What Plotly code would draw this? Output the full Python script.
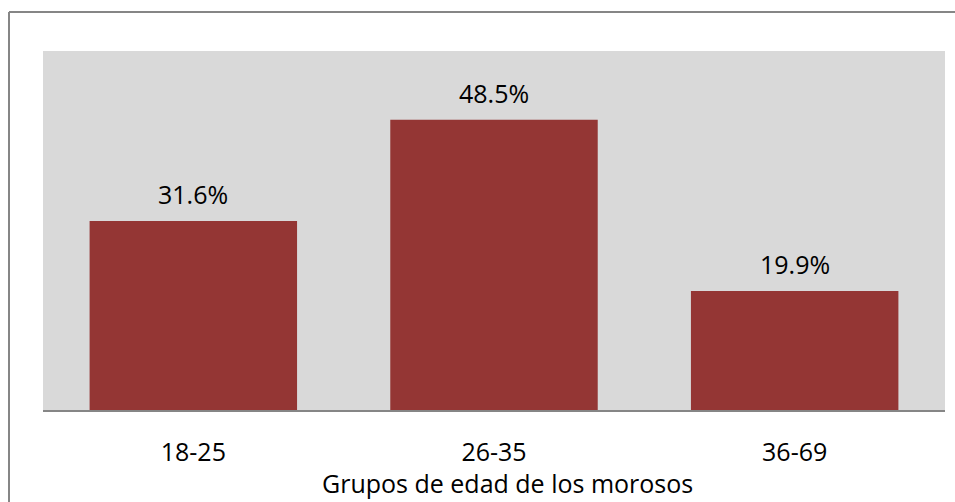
import plotly.graph_objects as go

categories = ["18-25", "26-35", "36-69"]
values = [31.6, 48.5, 19.9]
labels = ["31.6%", "48.5%", "19.9%"]
x_title = "Grupos de edad de los morosos"

W, H = 955, 502
L, R, T, B = 43, 10, 51, 92
pw = W - L - R
ph = H - T - B
FONT = "Open Sans"

fig = go.Figure()
fig.add_trace(go.Bar(x=categories, y=values, marker=dict(color="#943634", line=dict(width=0)),
                     width=0.69, hoverinfo="skip"))

for c, v, t in zip(categories, values, labels):
    fig.add_annotation(x=c, y=v, text=t, showarrow=False, yanchor="bottom", yshift=8,
                       font=dict(family=FONT, size=25, color="#000000"))

fig.add_annotation(x=0.5, y=0, xref="paper", yref="paper", text=x_title, showarrow=False,
                   xanchor="center", yanchor="bottom", xshift=13, yshift=-B,
                   font=dict(family=FONT, size=25, color="#000000"))

border = dict(color="#868686", width=2)
fig.update_layout(
    width=W, height=H,
    margin=dict(l=L, r=R, t=T, b=B),
    paper_bgcolor="white", plot_bgcolor="#d9d9d9",
    showlegend=False,
    xaxis=dict(showgrid=False, showline=True, linecolor="#868686", linewidth=2,
               tickfont=dict(family=FONT, size=25, color="#000000"),
               ticks="", ticklabelstandoff=19),
    yaxis=dict(range=[0, 60], showgrid=False, showticklabels=False, zeroline=False, ticks=""),
    shapes=[
        dict(type="line", xref="paper", yref="paper",
             x0=(9 - L) / pw, x1=(9 - L) / pw,
             y0=-(H + 20 - T - ph) / ph, y1=1 + (T - 12) / ph, line=border),
        dict(type="line", xref="paper", yref="paper",
             x0=(9 - L) / pw, x1=(W + 20 - L) / pw,
             y0=1 + (T - 12) / ph, y1=1 + (T - 12) / ph, line=border),
    ],
)

fig.write_html(
    "out.html",
    config={"displayModeBar": False},
    post_script="document.body.style.margin='0';document.documentElement.style.overflow='hidden';document.body.style.overflow='hidden';",
)
